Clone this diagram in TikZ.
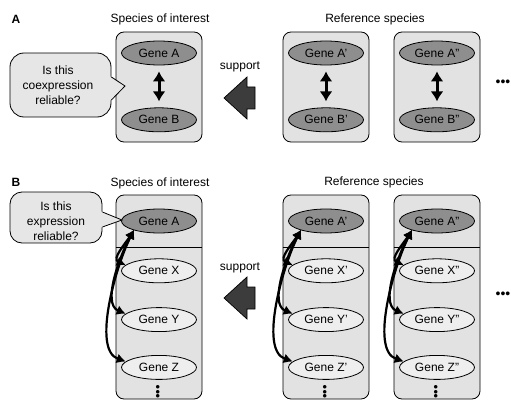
\documentclass[tikz,border=0pt]{standalone}
\usepackage{fontspec}
\setmainfont{Liberation Sans}
\usetikzlibrary{positioning,arrows.meta,shapes.geometric}

\definecolor{boxgray}{HTML}{E2E2E2}
\definecolor{bubblegray}{HTML}{E6E6E6}
\definecolor{genedark}{HTML}{8E8E8E}
\definecolor{genelight}{HTML}{EEEEEE}
\definecolor{arrowdark}{HTML}{3C3C3C}

\begin{document}
\begin{tikzpicture}[x=1pt,y=-1pt,
    every node/.style={font=\fontsize{12}{15}\selectfont},
    panel/.style={font=\fontsize{12}{14}\selectfont\bfseries},
    species/.style={draw, fill=boxgray, rounded corners=8pt, line width=0.8pt, minimum width=86pt, inner sep=0pt},
    gene/.style={ellipse, draw, line width=0.8pt, minimum width=75pt, minimum height=24pt, inner sep=0pt},
    dgene/.style={gene, fill=genedark},
    lgene/.style={gene, fill=genelight},
    bubble/.style={draw, fill=bubblegray, line width=0.8pt, inner sep=0pt},
    bigarrow/.style={draw, fill=arrowdark, line width=0.7pt, line join=miter},
    link/.style={{Latex[length=10pt,width=13pt]}-{Latex[length=10pt,width=13pt]}, line width=3pt},
    clink/.style={{Latex[length=9pt,width=10pt]}-{Latex[length=9pt,width=10pt]}, line width=2.2pt},
    hdots/.style={font=\fontsize{14}{14}\selectfont},
    vdots/.style={font=\fontsize{13}{13}\selectfont, rotate=90}
]
    \useasboundingbox (0,0) rectangle (511,401);
    %
    % panel A
    \node[panel] (labA) at (16,19) {A};
    \node (titA0) at (160,19) {Species of interest};
    \node (titA1) at (375,19) {Reference species};
    \node[species, minimum height=110pt] (spA0) at (159,87) {};
    \node[species, minimum height=110pt] (spA1) at (326,87) {};
    \node[species, minimum height=110pt] (spA2) at (437,87) {};
    \node[dgene] (aA0) at (159,53) {Gene A};
    \node[dgene, below=42pt of aA0] (aB0) {Gene B};
    \node[dgene] (aA1) at (326,53) {Gene A'};
    \node[dgene, below=42pt of aA1] (aB1) {Gene B'};
    \node[dgene] (aA2) at (437,53) {Gene A"};
    \node[dgene, below=42pt of aA2] (aB2) {Gene B"};
    \draw[link, shorten <=6pt, shorten >=6pt] (aA0) -- (aB0);
    \draw[link, shorten <=6pt, shorten >=6pt] (aA1) -- (aB1);
    \draw[link, shorten <=6pt, shorten >=6pt] (aA2) -- (aB2);
    %
    \node[bubble, rounded corners=14pt, minimum width=101pt, minimum height=64pt] (bubA) at (60.5,85) {};
    \coordinate (tipA) at (125,86);
    \fill[bubblegray] (110,76.5) -- (tipA) -- (110,100.5) -- cycle;
    \draw[line width=0.8pt] (bubA.east |- 0,77) -- (tipA) -- (bubA.east |- 0,100);
    \node[align=center] (qA) at (58,85) {Is this\\coexpression\\reliable?};
    \coordinate (arrA) at (224,98);
    \draw[bigarrow] (arrA) -- ++(23,-21) -- ++(0,10) -- ++(8,0) -- ++(0,22) -- ++(-8,0) -- ++(0,10) -- cycle;
    \node (supA) at (240,67) {support};
    \node[hdots] (moreA) at (503,83) {•••};
    %
    % panel B
    \node[panel] (labB) at (16,182) {B};
    \node (titB0) at (160,183) {Species of interest};
    \node (titB1) at (374,182) {Reference species};
    \node[species, minimum height=204pt] (spB0) at (159,297) {};
    \node[species, minimum height=204pt] (spB1) at (326,297) {};
    \node[species, minimum height=204pt] (spB2) at (437,297) {};
    \coordinate (sepB) at (0,247);
    \draw[line width=0.8pt] (spB0.west |- sepB) -- (spB0.east |- sepB);
    \draw[line width=0.8pt] (spB1.west |- sepB) -- (spB1.east |- sepB);
    \draw[line width=0.8pt] (spB2.west |- sepB) -- (spB2.east |- sepB);
    %
    \node[dgene] (bA0) at (159,221) {Gene A};
    \node[lgene, below=25pt of bA0] (bX0) {Gene X};
    \node[lgene, below=24pt of bX0] (bY0) {Gene Y};
    \node[lgene, below=23pt of bY0] (bZ0) {Gene Z};
    \node[dgene] (bA1) at (326,221) {Gene A'};
    \node[lgene, below=25pt of bA1] (bX1) {Gene X'};
    \node[lgene, below=24pt of bX1] (bY1) {Gene Y'};
    \node[lgene, below=23pt of bY1] (bZ1) {Gene Z'};
    \node[dgene] (bA2) at (437,221) {Gene A"};
    \node[lgene, below=25pt of bA2] (bX2) {Gene X"};
    \node[lgene, below=24pt of bX2] (bY2) {Gene Y"};
    \node[lgene, below=23pt of bY2] (bZ2) {Gene Z"};
    \node[vdots] (vd0) at (159,392) {•••};
    \node[vdots] (vd1) at (326,392) {•••};
    \node[vdots] (vd2) at (437,392) {•••};
    %
    \draw[clink] ([xshift=2pt]bA0.south west) .. controls +(-9,14) and +(-14,-6) .. (bX0.170);
    \draw[clink] ([xshift=2pt]bA0.south west) .. controls +(-14,25) and +(-24,-10) .. (bY0.170);
    \draw[clink] ([xshift=2pt]bA0.south west) .. controls +(-18,35) and +(-34,-12) .. (bZ0.170);
    \draw[clink] ([xshift=2pt]bA1.south west) .. controls +(-9,14) and +(-14,-6) .. (bX1.170);
    \draw[clink] ([xshift=2pt]bA1.south west) .. controls +(-14,25) and +(-24,-10) .. (bY1.170);
    \draw[clink] ([xshift=2pt]bA1.south west) .. controls +(-18,35) and +(-34,-12) .. (bZ1.170);
    \draw[clink] ([xshift=2pt]bA2.south west) .. controls +(-9,14) and +(-14,-6) .. (bX2.170);
    \draw[clink] ([xshift=2pt]bA2.south west) .. controls +(-14,25) and +(-24,-10) .. (bY2.170);
    \draw[clink] ([xshift=2pt]bA2.south west) .. controls +(-18,35) and +(-34,-12) .. (bZ2.170);
    %
    \node[bubble, rounded corners=12pt, minimum width=92pt, minimum height=51pt] (bubB) at (56,217.5) {};
    \coordinate (tipB) at (122,220);
    \fill[bubblegray] (101,211.5) -- (tipB) -- (101,227.5) -- cycle;
    \draw[line width=0.8pt] (bubB.east |- 0,212) -- (tipB) -- (bubB.east |- 0,227);
    \node[align=center] (qB) at (56,221) {Is this\\expression\\reliable?};
    \coordinate (arrB) at (224,298);
    \draw[bigarrow] (arrB) -- ++(23,-21) -- ++(0,10) -- ++(8,0) -- ++(0,22) -- ++(-8,0) -- ++(0,10) -- cycle;
    \node (supB) at (240,268) {support};
    \node[hdots] (moreB) at (503,295) {•••};
\end{tikzpicture}
\end{document}
